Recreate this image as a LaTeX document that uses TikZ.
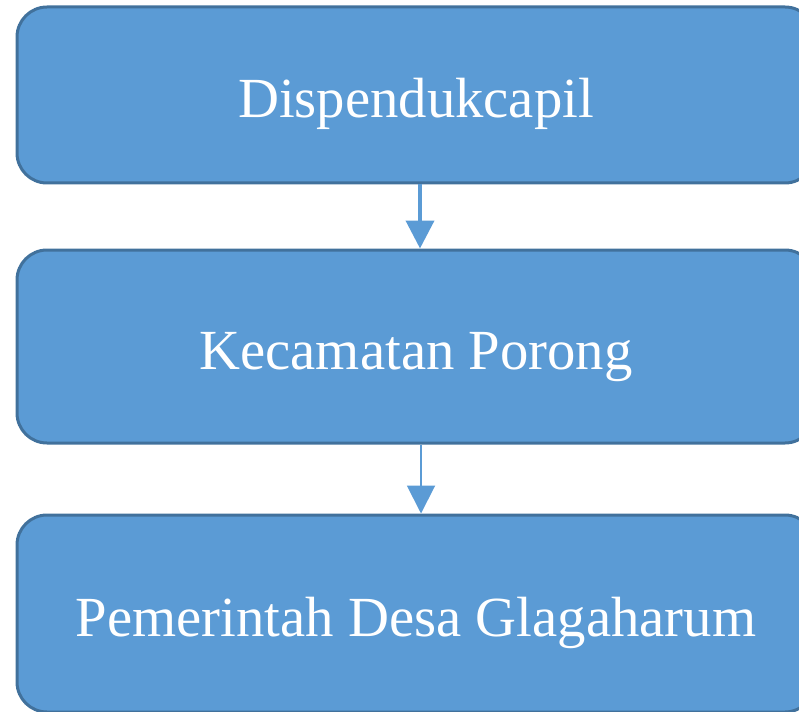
\documentclass[tikz,border=0pt]{standalone}
\usepackage{fontspec}
\setmainfont{Liberation Serif}
\usetikzlibrary{positioning,arrows.meta}
\definecolor{office_blue}{HTML}{5B9BD5}
\definecolor{office_edge}{HTML}{41719C}
\tikzstyle{line} = [draw, office_blue, -{Triangle[width=28pt,length=28pt]}]
\tikzstyle{level} = [rectangle, rounded corners=30pt, draw=office_edge, line width=3pt, fill=office_blue, text=white, font=\fontsize{56.7}{68}\selectfont, align=center, inner sep=0pt, minimum width=798pt, text height=52pt, text depth=6pt]

\begin{document}
\begin{tikzpicture}[x=1pt, y=-1pt]
   \useasboundingbox (0,0) rectangle (799,711);
   \clip (0,0) rectangle (799,711);

   % Levels
   \node at (416, 95) [level, minimum height=176pt] (dinas) {Dispendukcapil};
   \node at (416, 346.5) [level, minimum height=193pt] (kecamatan) {Kecamatan Porong};
   \node at (416, 613.5) [level, minimum height=197pt] (desa) {Pemerintah Desa Glagaharum};

   % Arrows
   \path [line, line width=4pt] ([xshift=4pt]dinas.south) -- ([xshift=4pt]kecamatan.north);
   \path [line, line width=2pt] ([xshift=5pt]kecamatan.south) -- ([xshift=5pt]desa.north);
\end{tikzpicture}
\end{document}
